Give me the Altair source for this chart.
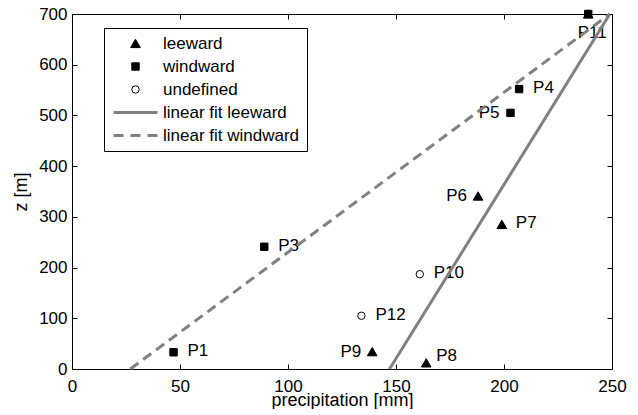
import altair as alt
import pandas as pd

# ---------------- data ----------------
names = ["P1", "P3", "P4", "P5", "P6", "P7", "P8", "P9", "P10", "P11", "P11", "P12"]
precip = [47, 89, 207, 203, 188, 199, 164, 139, 161, 239, 239, 134]
elev = [33, 241, 552, 505, 341, 285, 12, 34, 187, 700, 700, 105]
kind = ["windward", "windward", "windward", "windward", "leeward", "leeward",
        "leeward", "leeward", "undefined", "windward", "leeward", "undefined"]

fit_lee_x = [147, 249]
fit_lee_y = [0, 700]
fit_wind_x = [27, 249]
fit_wind_y = [0, 700]

x_ticks = [0, 50, 100, 150, 200, 250]
y_ticks = [0, 100, 200, 300, 400, 500, 600, 700]
legend_labels = ["leeward", "windward", "undefined", "linear fit leeward", "linear fit windward"]

# ---------------- styling ----------------
FONT = "Liberation Sans"
FS = 17
GRAY = "#808080"
W, H = 540, 355

pts = pd.DataFrame({"name": names, "precip": precip, "elev": elev, "kind": kind})
pts["idx"] = range(len(pts))
lee = pd.DataFrame({"x": fit_lee_x, "y": fit_lee_y})
wind = pd.DataFrame({"x": fit_wind_x, "y": fit_wind_y})

xs = alt.Scale(domain=[0, 250], nice=False, zero=False)
ys = alt.Scale(domain=[0, 700], nice=False, zero=False)

tri_path = "M0,-1.15L1.3,1.1L-1.3,1.1Z"
line_path = "M-5.93,-0.4H5.93V0.4H-5.93Z"
dash_path = ("M-5.93,-0.4H-3.23V0.4H-5.93Z"
             "M-1.35,-0.4H1.35V0.4H-1.35Z"
             "M3.23,-0.4H5.93V0.4H3.23Z")

legend = alt.Legend(title=None, orient="none", legendX=32, legendY=14,
                    strokeColor="black", fillColor="white", padding=7,
                    labelFont=FONT, labelFontSize=FS, labelColor="black",
                    rowPadding=5, symbolOffset=16, labelOffset=19,
                    symbolSize=55, symbolStrokeWidth=1, cornerRadius=0)

shape_scale = alt.Scale(domain=legend_labels,
                        range=[tri_path, "square", "circle", line_path, dash_path])
fill_scale = alt.Scale(domain=legend_labels,
                       range=["black", "black", "white", GRAY, GRAY])
stroke_scale = alt.Scale(domain=legend_labels,
                         range=["black", "black", "black", "transparent", "transparent"])

lab = dict(labelFont=FONT, labelFontSize=FS, labelColor="black", labelFlush=False,
           titleFont=FONT, titleFontSize=18, titleColor="black",
           titleFontWeight="normal", grid=False, domain=False)
tick = dict(labels=False, domain=False, ticks=True, tickSize=5, tickColor="black",
            tickWidth=1, title=None, grid=False)

main_x = alt.Axis(values=x_ticks, title="precipitation [mm]", orient="bottom",
                  ticks=False, labelPadding=9, titlePadding=-3, **lab)
main_y = alt.Axis(values=y_ticks, title="z [m]", orient="left",
                  ticks=False, labelPadding=5, titlePadding=8, **lab)
tick_bottom = alt.Axis(values=x_ticks, orient="top", offset=-H, **tick)
tick_top = alt.Axis(values=x_ticks, orient="bottom", offset=-H, **tick)
tick_left = alt.Axis(values=y_ticks, orient="right", offset=-W, **tick)
tick_right = alt.Axis(values=y_ticks, orient="left", offset=-W, **tick)

points = alt.Chart(pts).mark_point(size=55, opacity=1, strokeWidth=1).encode(
    x=alt.X("precip:Q", scale=xs, axis=main_x),
    y=alt.Y("elev:Q", scale=ys, axis=main_y),
    shape=alt.Shape("kind:N", scale=shape_scale, legend=legend),
    fill=alt.Fill("kind:N", scale=fill_scale, legend=legend),
    stroke=alt.Stroke("kind:N", scale=stroke_scale, legend=legend),
    order=alt.Order("idx:Q"),
)

txt = dict(font=FONT, fontSize=FS, color="black", baseline="middle")
right_names = ["P1", "P3", "P4", "P7", "P10", "P12"]
left_names = ["P5", "P6", "P9"]

def labels(sel, **kw):
    return alt.Chart(pts).transform_filter(sel).mark_text(**txt, **kw).encode(
        x=alt.X("precip:Q", scale=xs, axis=None),
        y=alt.Y("elev:Q", scale=ys, axis=None),
        text="name:N",
    )

t_right = labels(alt.FieldOneOfPredicate(field="name", oneOf=right_names), align="left", dx=14, dy=-1)
t_left = labels(alt.FieldOneOfPredicate(field="name", oneOf=left_names), align="right", dx=-11, dy=0)
t_p8 = labels(alt.FieldEqualPredicate(field="name", equal="P8"), align="left", dx=10, dy=-7)
t_p11 = labels((alt.datum.name == "P11") & (alt.datum.kind == "leeward"), align="center", dx=4, dy=19)

wind_line = alt.Chart(wind).mark_line(color=GRAY, strokeWidth=3, strokeDash=[10, 6],
                                      strokeCap="butt").encode(
    x=alt.X("x:Q", scale=xs, axis=tick_bottom),
    y=alt.Y("y:Q", scale=ys, axis=tick_left),
)
lee_line = alt.Chart(lee).mark_line(color=GRAY, strokeWidth=3, strokeCap="butt").encode(
    x=alt.X("x:Q", scale=xs, axis=tick_top),
    y=alt.Y("y:Q", scale=ys, axis=tick_right),
)

chart = alt.layer(points, t_right, t_left, t_p8, t_p11, wind_line, lee_line).resolve_axis(
    x="independent", y="independent"
).properties(
    width=W, height=H,
    autosize=alt.AutoSizeParams(type="none"),
    padding={"left": 64, "top": 6, "right": 18, "bottom": 40},
    background="white",
).configure_view(stroke="black", strokeWidth=1)

chart.save("out.html", embed_options={"renderer": "svg", "actions": False})
